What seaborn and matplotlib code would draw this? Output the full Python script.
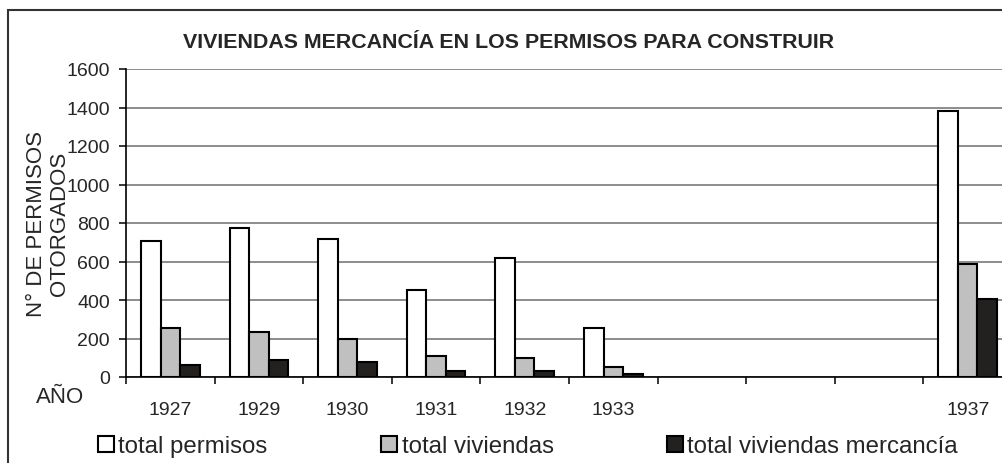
import numpy as np
import pandas as pd
import matplotlib
matplotlib.use("Agg")
import matplotlib.pyplot as plt
import matplotlib.patches as mpatches
import seaborn as sns

# Data (blank slots have no bars)
years = ["1927", "1929", "1930", "1931", "1932", "1933", "", " ", "  ", "1937"]
total_permisos = [705, 772, 715, 450, 617, 256, np.nan, np.nan, np.nan, 1380]
total_viviendas = [254, 235, 196, 109, 100, 50, np.nan, np.nan, np.nan, 587]
total_mercancia = [62, 90, 80, 33, 31, 14, np.nan, np.nan, np.nan, 405]

series = ["total permisos", "total viviendas", "total viviendas mercancía"]
colors = ["#ffffff", "#c0c0c0", "#231f20"]

df = pd.DataFrame({
    "año": years,
    series[0]: total_permisos,
    series[1]: total_viviendas,
    series[2]: total_mercancia,
})
df = df.melt(id_vars="año", var_name="serie", value_name="valor").dropna()

sns.set_style("white")
plt.rcParams["font.family"] = ["Liberation Sans", "DejaVu Sans"]

W, H = 1002, 464
fig = plt.figure(figsize=(W / 100, H / 100), dpi=100)
ax = fig.add_axes([126 / W, 1 - 378 / H, (1012 - 126) / W, (378 - 70) / H])

sns.barplot(data=df, x="año", y="valor", hue="serie", order=years,
            hue_order=series, palette=colors, edgecolor="black",
            linewidth=1.5, width=0.66, errorbar=None, ax=ax)

ax.set_xlim(-0.5, len(years) - 0.5)
ax.set_ylim(0, 1600)
ax.set_yticks(np.arange(0, 1601, 200))
ax.yaxis.grid(True, color="#6e6e6e", linewidth=1.1)
ax.set_axisbelow(True)
for side in ["top", "right"]:
    ax.spines[side].set_visible(False)
ax.spines["left"].set_color("black")
ax.spines["bottom"].set_color("black")
ax.spines["left"].set_linewidth(1.2)
ax.spines["bottom"].set_linewidth(1.2)

# category separators as minor ticks below the x axis
ax.set_xticks(np.arange(-0.5, len(years), 1), minor=True)
ax.tick_params(axis="x", which="both", bottom=True)
ax.tick_params(axis="x", which="major", length=0, pad=17, labelsize=14)
ax.tick_params(axis="x", which="minor", length=5, width=1.1, color="black", direction="out")
ax.tick_params(axis="y", left=True, length=5, width=1.1, color="black", direction="out",
               pad=6.5, labelsize=14)

ax.set_xlabel("")
ax.set_ylabel("N° DE PERMISOS\nOTORGADOS", fontsize=16, linespacing=1.1)
ax.yaxis.set_label_coords((70 - 126) / (1012 - 126), 0.5)

handles, labels = ax.get_legend_handles_labels()
ax.get_legend().remove()
fig.legend(handles, labels, loc="center left", bbox_to_anchor=(98 / W, 1 - 447 / H),
           ncol=3, frameon=False, fontsize=17.3, handlelength=0.65, handleheight=0.65,
           handletextpad=0.2, columnspacing=4.72, borderpad=0, borderaxespad=0)

fig.text(509 / W, 1 - 43 / H, "VIVIENDAS MERCANCÍA EN LOS PERMISOS PARA CONSTRUIR",
         ha="center", va="center", fontsize=15.4, fontweight="bold")
fig.text(60 / W, 1 - 398 / H, "AÑO", ha="center", va="center", fontsize=16)

# outer chart frame, cut off on the right and bottom like the reference
fig.add_artist(mpatches.Rectangle((8 / W, -0.2), 1.5, 1.2 - 11 / H, transform=fig.transFigure,
                                  fill=False, edgecolor="#333333", linewidth=1.5))

fig.savefig("out.png", dpi=100)
